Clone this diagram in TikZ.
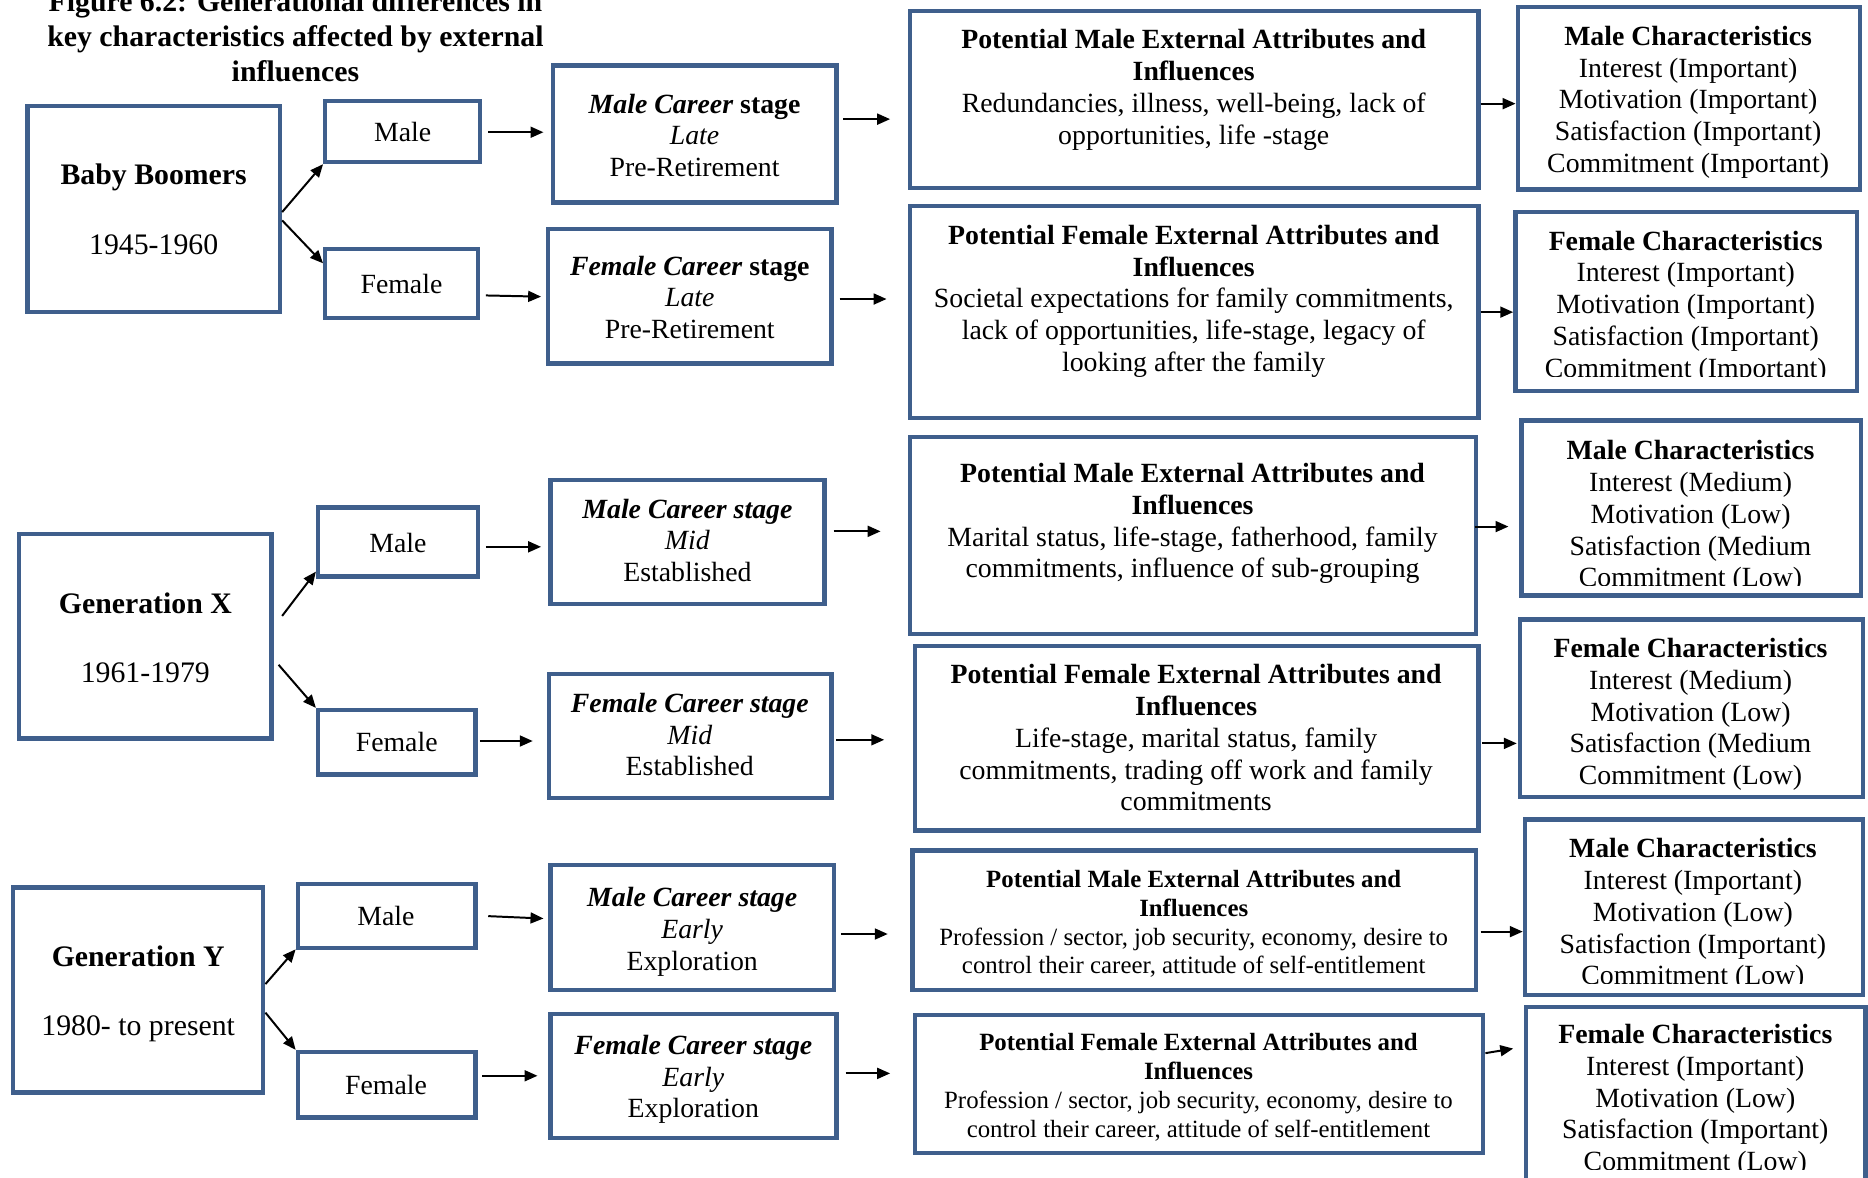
\documentclass[tikz,border=0pt]{standalone}
\usepackage{fontspec}
\setmainfont{Liberation Serif}
\usetikzlibrary{arrows.meta,calc,fit}
\definecolor{boxblue}{RGB}{63,95,140}
\newcommand\linkarrow[6]{\draw[arr] ($(#1)+(#2,#3)$) -- ($(#4)+(#5,#6)$);}
\begin{document}
% Text nodes are placed by the baseline of their last line.
\begin{tikzpicture}[x=0.6pt,y=-0.6pt,
  bx/.style={draw=boxblue, line width=2.2pt, inner sep=0pt},
  lbl/.style={align=center, anchor=base, inner sep=0pt, yshift=-1.2pt},
  t14/.style={font=\fontsize{14}{16}\selectfont},
  t12/.style={font=\fontsize{12.5}{14.5}\selectfont},
  t15/.style={font=\fontsize{15}{18}\selectfont},
  arr/.style={-{Triangle[length=6.5pt,width=5.5pt]}, line width=1pt}]
\clip (0,0) rectangle (1568,988);

% title
\node[lbl, font=\fontsize{15}{17.6}\selectfont\bfseries] (title) at (248,66.2)
  {Figure 6.2: Generational differences in\\key characteristics affected by external\\influences};

% ---------------- Baby Boomers ----------------
\node[bx, fit={(23,89) (235,262)}] (bb) {};
\node[bx, fit={(273,85) (403,136)}] (bbm) {};
\node[bx, fit={(273,209) (401,267)}] (bbf) {};
\node[bx, fit={(464,55) (702,170)}] (bbmc) {};
\node[bx, fit={(460,192) (698,305)}] (bbfc) {};
\node[bx, fit={(764,9) (1241,158)}] (bbmp) {};
\node[bx, fit={(764,173) (1241,351)}] (bbfp) {};
\node[bx, fit={(1274,6) (1561,159)}] (bbmch) {};
\node[bx, fit={(1272,178) (1559,328)}] (bbfch) {};

\node[lbl, t15] (bb-t) at (129,211.3) {\textbf{Baby Boomers}\\[17pt]1945-1960};
\node[lbl, t14] (bbm-t) at (338,117) {Male};
\node[lbl, t14] (bbf-t) at (337,244) {Female};
\node[lbl, t14] (bbmc-t) at (583,146.3) {\textbf{\textit{Male Career}} \textbf{stage}\\\textit{Late}\\Pre-Retirement};
\node[lbl, t14] (bbfc-t) at (579,282.3) {\textbf{\textit{Female Career}} \textbf{stage}\\\textit{Late}\\Pre-Retirement};
\node[lbl, t14] (bbmp-t) at (1002,119) {\textbf{Potential Male External Attributes and}\\\textbf{Influences}\\Redundancies, illness, well-being, lack of\\opportunities, life -stage};
\node[lbl, t14] (bbfp-t) at (1002,309.7) {\textbf{Potential Female External Attributes and}\\\textbf{Influences}\\Societal expectations for family commitments,\\lack of opportunities, life-stage, legacy of\\looking after the family};
\node[lbl, t14] (bbmch-t) at (1417,142.7) {\textbf{Male Characteristics}\\Interest (Important)\\Motivation (Important)\\Satisfaction (Important)\\Commitment (Important)};
\begin{scope}
\clip (1272,178) rectangle (1559,316);
\node[lbl, t14] (bbfch-t) at (1415,314.7) {\textbf{Female Characteristics}\\Interest (Important)\\Motivation (Important)\\Satisfaction (Important)\\Commitment (Important)};
\end{scope}

\linkarrow{bb.east}{0}{2.5}{bbm.south west}{0}{0}
\linkarrow{bb.east}{0}{9.5}{bbf.west}{0}{-17}
\linkarrow{bbm.east}{5}{0.5}{bbmc.west}{-6}{-1.5}
\linkarrow{bbf.east}{5}{10}{bbfc.west}{-4}{0.5}
\linkarrow{bbmc.east}{4}{-12.5}{bbmp.west}{-15}{16.5}
\linkarrow{bbfc.east}{5}{2.5}{bbfp.west}{-18}{-11}
\linkarrow{bbmp.east}{0}{3.5}{bbmch.west}{0}{4.5}
\linkarrow{bbfp.east}{0}{0}{bbfch.west}{0}{9}

% ---------------- Generation X ----------------
\node[bx, fit={(16,448) (228,620)}] (gx) {};
\node[bx, fit={(267,426) (401,484)}] (gxm) {};
\node[bx, fit={(267,596) (399,650)}] (gxf) {};
\node[bx, fit={(462,403) (692,507)}] (gxmc) {};
\node[bx, fit={(461,566) (698,670)}] (gxfc) {};
\node[bx, fit={(764,367) (1239,532)}] (gxmp) {};
\node[bx, fit={(768,542) (1241,697)}] (gxfp) {};
\node[bx, fit={(1277,353) (1562,500)}] (gxmch) {};
\node[bx, fit={(1276,520) (1564,669)}] (gxfch) {};

\node[lbl, t15] (gx-t) at (122,571.3) {\textbf{Generation X}\\[17pt]1961-1979};
\node[lbl, t14] (gxm-t) at (334,462) {Male};
\node[lbl, t14] (gxf-t) at (333,629) {Female};
\node[lbl, t14] (gxmc-t) at (577,486.3) {\textbf{\textit{Male Career stage}}\\\textit{Mid}\\Established};
\node[lbl, t14] (gxfc-t) at (579,649.3) {\textbf{\textit{Female Career stage}}\\\textit{Mid}\\Established};
\node[lbl, t14] (gxmp-t) at (1001,483) {\textbf{Potential Male External Attributes and}\\\textbf{Influences}\\Marital status, life-stage, fatherhood, family\\commitments, influence of sub-grouping};
\node[lbl, t14] (gxfp-t) at (1004,678.7) {\textbf{Potential Female External Attributes and}\\\textbf{Influences}\\Life-stage, marital status, family\\commitments, trading off work and family\\commitments};
\begin{scope}
\clip (1277,353) rectangle (1562,491.5);
\node[lbl, t14] (gxmch-t) at (1419,490.7) {\textbf{Male Characteristics}\\Interest (Medium)\\Motivation (Low)\\Satisfaction (Medium\\Commitment (Low)};
\end{scope}
\node[lbl, t14] (gxfch-t) at (1419,656.7) {\textbf{Female Characteristics}\\Interest (Medium)\\Motivation (Low)\\Satisfaction (Medium\\Commitment (Low)};

\linkarrow{gx.east}{7}{-17}{gxm.south west}{0}{-6}
\linkarrow{gx.east}{4}{24}{gxf.north west}{0}{0}
\linkarrow{gxm.east}{5}{4}{gxmc.west}{-6}{4}
\linkarrow{gxf.east}{2}{-1}{gxfc.west}{-12}{4}
\linkarrow{gxmc.east}{6}{-9}{gxmp.west}{-23}{-3.5}
\linkarrow{gxfc.east}{2}{3}{gxfp.west}{-24}{1.5}
\linkarrow{gxmp.east}{-3}{-7.5}{gxmch.west}{-9}{15.5}
\linkarrow{gxfp.east}{1}{4.5}{gxfch.west}{-1}{29.5}

% ---------------- Generation Y ----------------
\node[bx, fit={(11,745) (221,917)}] (gy) {};
\node[bx, fit={(250,742) (399,796)}] (gym) {};
\node[bx, fit={(250,883) (399,938)}] (gyf) {};
\node[bx, fit={(462,726) (700,831)}] (gymc) {};
\node[bx, fit={(462,851) (702,955)}] (gyfc) {};
\node[bx, fit={(766,714) (1239,831)}] (gymp) {};
\node[bx, fit={(768,852) (1245,968)}] (gyfp) {};
\node[bx, fit={(1280,688) (1564,835)}] (gymch) {};
\node[bx, fit={(1281,845) (1566,1000)}] (gyfch) {};

\node[lbl, t15] (gy-t) at (116,867.3) {\textbf{Generation Y}\\[17pt]1980- to present};
\node[lbl, t14] (gym-t) at (324,775) {Male};
\node[lbl, t14] (gyf-t) at (324,917) {Female};
\node[lbl, t14] (gymc-t) at (581,812.3) {\textbf{\textit{Male Career stage}}\\\textit{Early}\\Exploration};
\node[lbl, t14] (gyfc-t) at (582,936.3) {\textbf{\textit{Female Career stage}}\\\textit{Early}\\Exploration};
\node[lbl, t12] (gymp-t) at (1002,815.5) {\textbf{Potential Male External Attributes and}\\\textbf{Influences}\\Profession / sector, job security, economy, desire to\\control their career, attitude of self-entitlement};
\node[lbl, t12] (gyfp-t) at (1006,952.5) {\textbf{Potential Female External Attributes and}\\\textbf{Influences}\\Profession / sector, job security, economy, desire to\\control their career, attitude of self-entitlement};
\begin{scope}
\clip (1280,688) rectangle (1564,825.5);
\node[lbl, t14] (gymch-t) at (1421,824.7) {\textbf{Male Characteristics}\\Interest (Important)\\Motivation (Low)\\Satisfaction (Important)\\Commitment (Low)};
\end{scope}
\begin{scope}
\clip (1281,845) rectangle (1566,981.5);
\node[lbl, t14] (gyfch-t) at (1423,980.7) {\textbf{Female Characteristics}\\Interest (Important)\\Motivation (Low)\\Satisfaction (Important)\\Commitment (Low)};
\end{scope}

\linkarrow{gy.east}{0}{-5}{gym.south west}{0}{-1}
\linkarrow{gy.east}{0}{19}{gyf.north west}{0}{0}
\linkarrow{gym.east}{9}{0}{gymc.west}{-4}{-7.5}
\linkarrow{gyf.east}{4}{-7.5}{gyfc.west}{-9}{0}
\linkarrow{gymc.east}{4}{5.5}{gymp.west}{-19}{11.5}
\linkarrow{gyfc.east}{6}{-2}{gyfp.west}{-19}{-9}
\linkarrow{gymp.east}{2}{9.5}{gymch.west}{0}{20.5}
\linkarrow{gyfp.east}{0}{-26}{gyfch.north west}{-9}{37}
\end{tikzpicture}
\end{document}
